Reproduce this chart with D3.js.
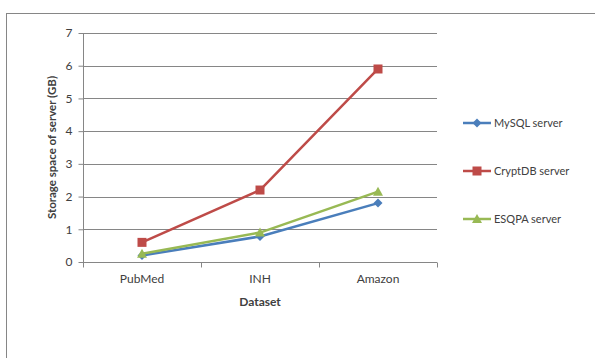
<!DOCTYPE html>
<html>
<head>
<meta charset="utf-8">
<script src="https://cdn.jsdelivr.net/npm/d3@7"></script>
<style>
  body { margin: 0; background: #fff; }
  text { font-family: Lato, "Open Sans", sans-serif; fill: #404040; }
</style>
</head>
<body>
<svg id="chart" width="595" height="358"></svg>
<script>
// data
const datasets = ["PubMed", "INH", "Amazon"];
const seriesNames = ["MySQL server", "CryptDB server", "ESQPA server"];
const mysqlValues = [0.2, 0.78, 1.8];
const cryptdbValues = [0.6, 2.2, 5.9];
const esqpaValues = [0.25, 0.9, 2.15];
const yTicks = [0, 1, 2, 3, 4, 5, 6, 7];

const colors = ["#4A7EBB", "#BE4B48", "#98B954"];
const series = [
  { name: seriesNames[0], values: mysqlValues, color: colors[0], marker: "diamond" },
  { name: seriesNames[1], values: cryptdbValues, color: colors[1], marker: "square" },
  { name: seriesNames[2], values: esqpaValues, color: colors[2], marker: "triangle" }
];

const svg = d3.select("#chart");

// outer chart border
svg.append("rect")
  .attr("x", 6.5).attr("y", 13.5)
  .attr("width", 620).attr("height", 400)
  .attr("fill", "none").attr("stroke", "#868686");

const plot = { left: 83, top: 33, right: 437, bottom: 262 };

const x = d3.scaleBand().domain(datasets).range([plot.left, plot.right]);
const y = d3.scaleLinear().domain([0, 7]).range([plot.bottom, plot.top]);

// gridlines
svg.append("g")
  .selectAll("line")
  .data(yTicks.slice(1))
  .enter()
  .append("line")
  .attr("x1", plot.left).attr("x2", plot.right)
  .attr("y1", (d) => Math.round(y(d)) + 0.5)
  .attr("y2", (d) => Math.round(y(d)) + 0.5)
  .attr("stroke", "#868686");

// y axis
const yAxis = svg.append("g")
  .attr("transform", `translate(${plot.left + 0.5},0)`)
  .call(d3.axisLeft(y).tickValues(yTicks).tickSize(5).tickPadding(6).tickFormat(d3.format("d")));
yAxis.selectAll("path,line").attr("stroke", "#868686");
yAxis.selectAll("text").style("font-size", "12px").attr("fill", "#404040");
yAxis.select(".domain").attr("d", `M0,${plot.top}V${plot.bottom}`);

// x axis
const xAxis = svg.append("g")
  .attr("transform", `translate(0,${Math.round(y(0)) + 0.5})`)
  .call(d3.axisBottom(x).tickSize(0).tickPadding(12));
xAxis.select(".domain").attr("d", `M${plot.left},0H${plot.right}`).attr("stroke", "#868686");
xAxis.selectAll("text").style("font-size", "12px").attr("fill", "#404040");
// tick marks between categories
xAxis.selectAll(".sep")
  .data(datasets.concat(["end"]))
  .enter()
  .append("line")
  .attr("x1", (d, i) => Math.round(plot.left + i * x.bandwidth()) + 0.5)
  .attr("x2", (d, i) => Math.round(plot.left + i * x.bandwidth()) + 0.5)
  .attr("y1", 0).attr("y2", 5)
  .attr("stroke", "#868686");

// axis titles
svg.append("text")
  .attr("x", (plot.left + plot.right) / 2).attr("y", 306)
  .attr("text-anchor", "middle")
  .style("font-size", "12px").style("font-weight", "bold")
  .text("Dataset");

svg.append("text")
  .attr("transform", `translate(56,${(plot.top + plot.bottom) / 2}) rotate(-90)`)
  .attr("text-anchor", "middle")
  .style("font-size", "11.5px").style("font-weight", "bold")
  .text("Storage space of server  (GB)");

const cx = (d) => x(d) + x.bandwidth() / 2;

function drawMarker(g, type, color) {
  if (type === "diamond") {
    g.append("path").attr("d", "M0,-4.5L4.5,0L0,4.5L-4.5,0Z").attr("fill", color);
  } else if (type === "square") {
    g.append("rect").attr("x", -4.5).attr("y", -4.5).attr("width", 9).attr("height", 9).attr("fill", color);
  } else {
    g.append("path").attr("d", "M0,-5L5,4L-5,4Z").attr("fill", color);
  }
}

const line = d3.line()
  .x((d, i) => cx(datasets[i]))
  .y((d) => y(d));

series.forEach((s) => {
  svg.append("path")
    .datum(s.values)
    .attr("d", line)
    .attr("fill", "none")
    .attr("stroke", s.color)
    .attr("stroke-width", 2.5)
    .attr("stroke-linejoin", "round");
  s.values.forEach((v, i) => {
    const g = svg.append("g").attr("transform", `translate(${cx(datasets[i])},${y(v)})`);
    drawMarker(g, s.marker, s.color);
  });
});

// legend
const legendY = [123, 171, 219];
series.forEach((s, i) => {
  const g = svg.append("g").attr("transform", `translate(463,${legendY[i]})`);
  g.append("line").attr("x1", 0).attr("x2", 28).attr("y1", 0).attr("y2", 0)
    .attr("stroke", s.color).attr("stroke-width", 2.5);
  const m = g.append("g").attr("transform", "translate(14,0)");
  drawMarker(m, s.marker, s.color);
  g.append("text").attr("x", 31).attr("y", 4)
    .style("font-size", "11px")
    .text(s.name);
});
</script>
</body>
</html>
